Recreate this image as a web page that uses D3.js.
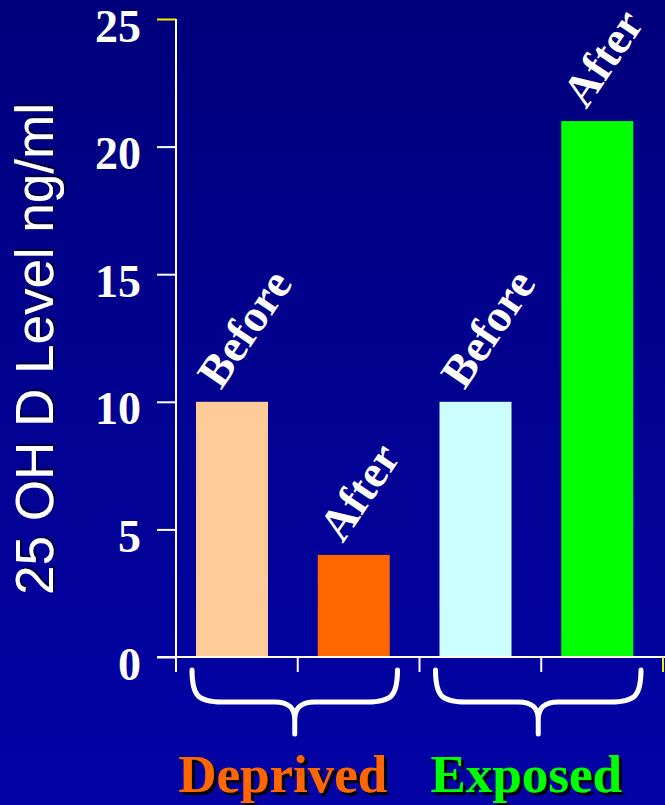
<!DOCTYPE html>
<html>
<head>
<meta charset="utf-8">
<script src="https://cdn.jsdelivr.net/npm/d3@7"></script>
<style>
  html, body { margin: 0; padding: 0; background: #000080; }
  svg { display: block; }
</style>
</head>
<body>
<svg id="chart" width="665" height="805"></svg>
<script>
// ---- data ----
const categories = ["Deprived Before", "Deprived After", "Exposed Before", "Exposed After"];
const barLabels = ["Before", "After", "Before", "After"];
const values = [10, 4, 10, 21];
const groups = ["Deprived", "Exposed"];
const groupMembers = [["Deprived Before", "Deprived After"], ["Exposed Before", "Exposed After"]];
const yTicks = [0, 5, 10, 15, 20, 25];
const yTitle = "25 OH D Level ng/ml";

// ---- palette ----
const barColors = ["#ffcc99", "#ff6600", "#ccffff", "#00ff00"];
const groupColors = ["#ff6600", "#00ff00"];

const W = 665, H = 805;
const svg = d3.select("#chart");
const serif = "'Liberation Serif', 'Times New Roman', Times, serif";
const sans = "'Liberation Sans', Arial, Helvetica, sans-serif";

// background gradient + shadow filters
const defs = svg.append("defs");
const grad = defs.append("linearGradient").attr("id", "bg").attr("x1", 0).attr("y1", 0).attr("x2", 0).attr("y2", 1);
grad.append("stop").attr("offset", "0%").attr("stop-color", "#00007c");
grad.append("stop").attr("offset", "100%").attr("stop-color", "#0303a6");
defs.append("filter").attr("id", "shadowTitle").attr("x", "-10%").attr("y", "-20%").attr("width", "130%").attr("height", "150%")
  .append("feDropShadow").attr("dx", 2).attr("dy", 2).attr("stdDeviation", 0.6)
  .attr("flood-color", "#000022").attr("flood-opacity", 0.75);
defs.append("filter").attr("id", "shadowGroup").attr("x", "-10%").attr("y", "-20%").attr("width", "130%").attr("height", "150%")
  .append("feDropShadow").attr("dx", 3).attr("dy", 3).attr("stdDeviation", 0.4)
  .attr("flood-color", "#000000").attr("flood-opacity", 1);
svg.append("rect").attr("width", W).attr("height", H).attr("fill", "url(#bg)");

// scales
const x = d3.scaleBand().domain(categories).range([176, 663]).padding(0);
const y = d3.scaleLinear().domain([0, 25]).range([657, 19]);
const bw = x.bandwidth();
const barW = 72;
const barOff = 20;

// bars
svg.append("g").selectAll("rect").data(values).join("rect")
  .attr("x", (d, i) => x(categories[i]) + barOff)
  .attr("y", d => y(d))
  .attr("width", barW)
  .attr("height", d => y(0) - y(d))
  .attr("fill", (d, i) => barColors[i]);

// y axis
const yAxis = d3.axisLeft(y).tickValues(yTicks).tickSizeInner(19).tickSizeOuter(0).tickPadding(16);
const gy = svg.append("g").attr("transform", "translate(176,0)").call(yAxis);
gy.select(".domain").remove();
gy.selectAll(".tick line").attr("stroke", d => d === 25 ? "#f2f200" : "#ffffff").attr("stroke-width", 2);
gy.selectAll(".tick text")
  .attr("fill", "#ffffff")
  .attr("dy", 22)
  .style("font-family", serif)
  .style("font-weight", "bold")
  .style("font-size", "46px");

// y axis line
svg.append("line").attr("x1", 176).attr("x2", 176).attr("y1", y(25)).attr("y2", y(0) + 15)
  .attr("stroke", "#ffffff").attr("stroke-width", 2);

// x axis line
svg.append("line").attr("x1", 157).attr("x2", W).attr("y1", y(0)).attr("y2", y(0))
  .attr("stroke", "#ffffff").attr("stroke-width", 2);

// x axis ticks at band boundaries
const boundaries = categories.map(c => x(c)).concat([x.range()[1]]);
svg.append("g").selectAll("line").data(boundaries).join("line")
  .attr("x1", d => d).attr("x2", d => d)
  .attr("y1", y(0)).attr("y2", y(0) + 15)
  .attr("stroke", (d, i) => i === boundaries.length - 1 ? "#f2f200" : "#ffffff")
  .attr("stroke-width", 2);

// bar labels, rotated
svg.append("g").selectAll("text").data(values).join("text")
  .attr("transform", (d, i) => {
    const cx = x(categories[i]) + barOff + barW / 2 - 11;
    const cy = y(d) - 11;
    return `translate(${cx},${cy}) rotate(-56)`;
  })
  .attr("fill", "#ffffff")
  .style("font-family", serif)
  .style("font-weight", "bold")
  .style("font-size", "46px")
  .text((d, i) => barLabels[i]);

// y title with shadow
svg.append("text")
  .attr("transform", `translate(53,349) rotate(-90)`)
  .attr("text-anchor", "middle")
  .attr("fill", "#ffffff")
  .attr("filter", "url(#shadowTitle)")
  .style("font-family", sans).style("font-size", "53px").text(yTitle);

// braces
function bracePath(x0, x1) {
  const xm = (x0 + x1) / 2;
  const t = 670, h = 702, b = 734;
  return `M${x0},${t} C${x0},${h - 6} ${x0 + 6},${h} ${x0 + 30},${h}` +
         ` L${xm - 20},${h} C${xm - 6},${h} ${xm},${h + 6} ${xm},${h + 18} L${xm},${b}` +
         ` M${xm},${h + 18} C${xm},${h + 6} ${xm + 6},${h} ${xm + 20},${h}` +
         ` L${x1 - 30},${h} C${x1 - 6},${h} ${x1},${h - 6} ${x1},${t}`;
}
const groupSpan = groupMembers.map(m => [x(m[0]), x(m[m.length - 1]) + bw]);
svg.append("g").selectAll("path").data(groupSpan).join("path")
  .attr("d", d => bracePath(d[0] + 16, d[1] - 22))
  .attr("fill", "none").attr("stroke", "#ffffff").attr("stroke-width", 5)
  .attr("stroke-linecap", "round").attr("stroke-linejoin", "round");

// group labels with shadow
svg.append("g").selectAll("text").data(groups).join("text")
  .attr("x", (d, i) => (groupSpan[i][0] + groupSpan[i][1]) / 2 - 15)
  .attr("y", 792)
  .attr("text-anchor", "middle")
  .attr("fill", (d, i) => groupColors[i])
  .attr("filter", "url(#shadowGroup)")
  .style("font-family", serif).style("font-weight", "bold").style("font-size", "53px")
  .text(d => d);
</script>
</body>
</html>
